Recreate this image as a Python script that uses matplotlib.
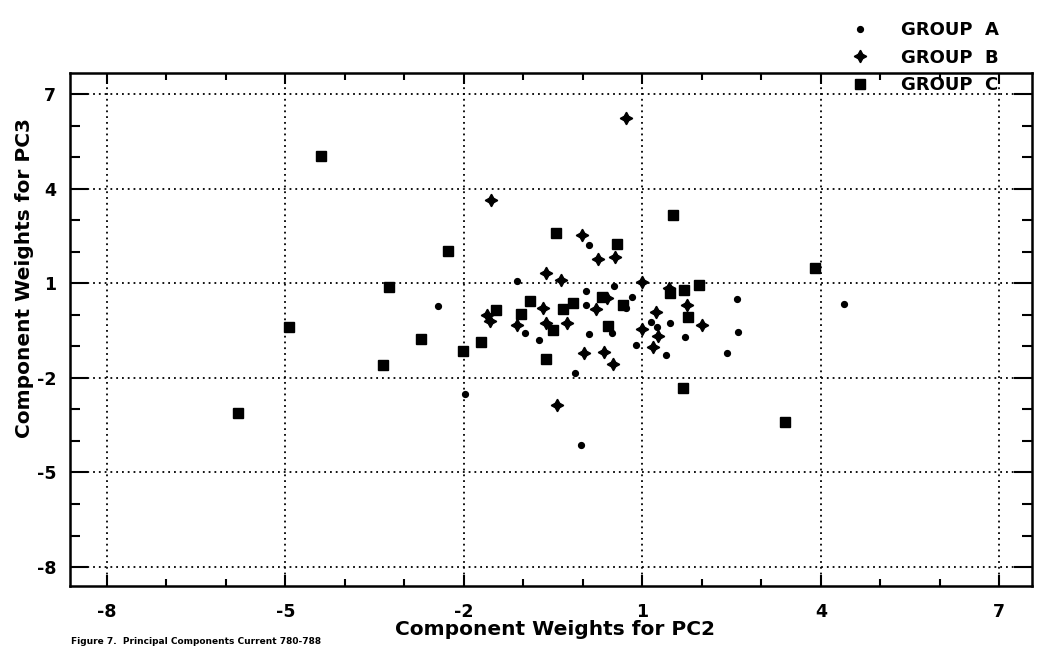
import matplotlib
matplotlib.use('Agg')
import matplotlib.pyplot as plt
from matplotlib.ticker import MultipleLocator, FixedLocator

# component weights (PC2, PC3)
a_pc2 = [-2.44, -1.11, -1.98, 0.10, 0.52, 0.05, 0.05, 0.82, 2.59, 4.39, 1.14, 1.46, 1.24,
         -0.97, -0.74, 0.10, 0.49, 0.89, 1.40, 1.71, 2.42, 2.61, -0.03, -0.13, 0.72]
a_pc3 = [0.27, 1.06, -2.52, 2.21, 0.90, 0.75, 0.30, 0.56, 0.49, 0.33, -0.24, -0.27, -0.40,
         -0.59, -0.81, -0.62, -0.59, -0.97, -1.29, -0.71, -1.22, -0.56, -4.14, -1.86, 0.21]

b_pc2 = [0.72, -1.55, -0.02, 0.25, 0.54, -0.62, -0.37, 0.99, 1.45, -0.67, -1.61, -1.56, -1.11,
         -0.62, -0.27, 0.22, 0.40, 1.23, 1.75, 2.00, 0.99, 1.26, 1.18, 0.02, 0.35, 0.50, -0.44]
b_pc3 = [6.24, 3.63, 2.52, 1.76, 1.83, 1.32, 1.10, 1.03, 0.84, 0.21, -0.02, -0.21, -0.33,
         -0.27, -0.27, 0.17, 0.52, 0.08, 0.30, -0.33, -0.46, -0.68, -1.03, -1.22, -1.19, -1.57, -2.87]

c_pc2 = [-4.40, -3.26, -2.27, -4.94, -2.72, -3.36, -5.80, -2.02, -1.71, -0.45, 0.57, 1.51, 3.90,
         1.68, 3.40, -0.62, 1.95, 1.46, 1.70, 1.76, 0.42, 0.67, -1.46, -1.04, -0.89, -0.34,
         -0.17, 0.32, -0.50]
c_pc3 = [5.03, 0.87, 2.02, -0.40, -0.78, -1.60, -3.10, -1.16, -0.87, 2.59, 2.24, 3.16, 1.48,
         -2.33, -3.41, -1.41, 0.94, 0.68, 0.78, -0.08, -0.37, 0.30, 0.14, 0.02, 0.43, 0.17,
         0.37, 0.56, -0.49]

ticks = [-8, -5, -2, 1, 4, 7]
labels = ['GROUP  A', 'GROUP  B', 'GROUP  C']

plt.rcParams['font.family'] = 'DejaVu Sans'
plt.rcParams['font.weight'] = 'bold'
plt.rcParams['axes.unicode_minus'] = False

fig = plt.figure(figsize=(10.39, 6.47), dpi=100)
ax = fig.add_axes([0.0674, 0.0943, 0.9259, 0.7929])

ax.plot(a_pc2, a_pc3, 'o', color='black', ms=4.2, ls='none', label=labels[0])
ax.plot(b_pc2, b_pc3, marker=(4, 1, 0), color='black', ms=9, ls='none', label=labels[1])
ax.plot(c_pc2, c_pc3, 's', color='black', ms=7.5, ls='none', label=labels[2])

ax.set_xlim(-8.62, 7.55)
ax.set_ylim(-8.6, 7.67)
ax.xaxis.set_major_locator(FixedLocator(ticks))
ax.yaxis.set_major_locator(FixedLocator(ticks))
ax.xaxis.set_minor_locator(MultipleLocator(1))
ax.yaxis.set_minor_locator(MultipleLocator(1))

ax.grid(True, which='major', color='black', linestyle=(0, (1, 2.2)), linewidth=1.3)
ax.tick_params(axis='x', which='major', direction='in', length=8, width=1.5,
               top=True, labelsize=12.5, pad=12)
ax.tick_params(axis='x', which='minor', direction='in', length=5, width=1.5, top=True)
ax.tick_params(axis='y', which='major', direction='in', length=13, width=1.5,
               right=True, labelsize=12.5, pad=10)
ax.tick_params(axis='y', which='minor', direction='in', length=7, width=1.5, right=True)
for lab in ax.get_xticklabels() + ax.get_yticklabels():
    lab.set_fontweight('bold')
for s in ax.spines.values():
    s.set_linewidth(1.8)

ax.set_xlabel('Component Weights for PC2', fontsize=14.5, fontweight='bold')
ax.set_ylabel('Component Weights for PC3', fontsize=14.5, fontweight='bold')
ax.xaxis.set_label_coords(0.504, -0.066)
ax.yaxis.set_label_coords(-0.037, 0.60)

fig.legend(loc='upper left', bbox_to_anchor=(0.819, 0.967), frameon=False,
           prop={'weight': 'bold', 'size': 13}, handlelength=1.0, handletextpad=1.8,
           labelspacing=0.52, borderpad=0.0, borderaxespad=0.0)

# caption of the scanned page, only its top shows in the reference
fig.text(0.068, 0.002, 'Figure 7.  Principal Components Current 780-788',
         fontsize=6.5, fontweight='bold', va='bottom', ha='left')

plt.savefig('out.png', dpi=100)
